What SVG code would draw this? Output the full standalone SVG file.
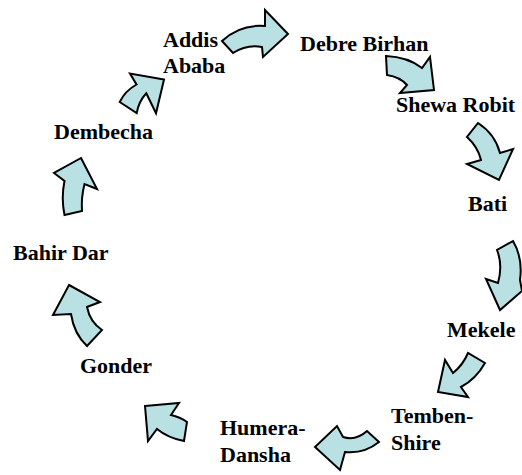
<svg xmlns="http://www.w3.org/2000/svg" width="522" height="475" viewBox="0 0 522 475">
<style>
.lbl{font-family:"Liberation Serif","Times New Roman",serif;font-weight:bold;font-size:22px;fill:#000}
.arr{fill:#b9e0e3;stroke:#000;stroke-width:2;stroke-linejoin:miter}
</style>
<rect width="522" height="475" fill="#fff"/>
<g id="connectors">
<path class="arr" d="M222,41 Q240,24 265,26 L265,10 L288,34 L263,57 L262,47 Q247,44 233,53 Z"/>
<path class="arr" d="M386,56 Q408,57 422,68 L430,57 L434,90 L400,93 L407,85 Q400,77 387,75 Z"/>
<path class="arr" d="M478,123 Q495,134 500,153 L513,149 L499,180 L467,164 L481,160 Q478,147 467,137 Z"/>
<path class="arr" d="M513,241 Q523,258 520,280 L522,291 L500,310 L486,279 L498,283 Q503,265 497,250 Z"/>
<path class="arr" d="M485,363 Q476,379 461,387 L468,397 L438,392 L445,360 L453,373 Q463,365 468,353 Z"/>
<path class="arr" d="M379,442 Q364,454 345,452 L340,470 L315,447 L337,426 L343,437 Q356,441 367,431 Z"/>
<path class="arr" d="M145,406 L179,403 L171,415 Q180,417 187,422 L184,441 Q168,438 157,429 L148,441 Z"/>
<path class="arr" d="M69,285 L100,302 L87,307 Q90,322 102,330 L87,346 Q74,334 71,314 L53,315 Z"/>
<path class="arr" d="M81,158 L97,189 L84.5,184 Q81,198 82,211 L64.5,215 Q61,198 64.5,181 L54,173 Z"/>
<path class="arr" d="M164,79.5 L130,73.5 L136.5,84.5 Q125,91 119.7,102 L136.7,113 Q139,101 146.3,93.3 L156,113.3 Z"/>
</g>
<g id="addis-ababa"><text class="lbl" x="163" y="47">Addis</text><text class="lbl" x="163" y="73">Ababa</text></g>
<g id="debre-birhan"><text class="lbl" x="300" y="51">Debre Birhan</text></g>
<g id="shewa-robit"><text class="lbl" x="396" y="112">Shewa Robit</text></g>
<g id="bati"><text class="lbl" x="468" y="211">Bati</text></g>
<g id="mekele"><text class="lbl" x="447" y="337">Mekele</text></g>
<g id="temben-shire"><text class="lbl" x="391" y="423">Temben-</text><text class="lbl" x="391" y="450">Shire</text></g>
<g id="humera-dansha"><text class="lbl" x="220" y="435">Humera-</text><text class="lbl" x="220" y="462">Dansha</text></g>
<g id="gonder"><text class="lbl" x="80" y="373">Gonder</text></g>
<g id="bahir-dar"><text class="lbl" x="13" y="260">Bahir Dar</text></g>
<g id="dembecha"><text class="lbl" x="54" y="139">Dembecha</text></g>
</svg>
